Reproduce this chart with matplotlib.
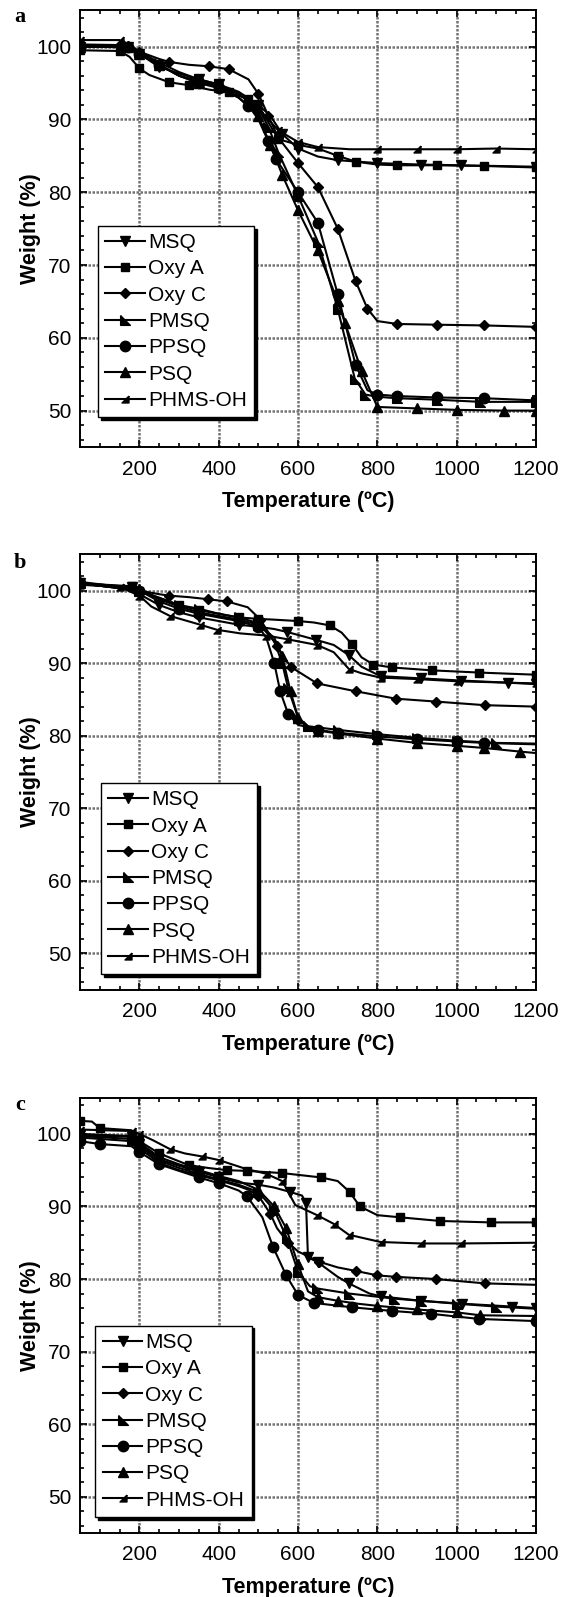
import matplotlib
matplotlib.use('Agg')
import matplotlib.pyplot as plt
from matplotlib.ticker import MultipleLocator

plt.rcParams['font.family'] = ['Liberation Sans', 'DejaVu Sans']

series_names = ['MSQ', 'Oxy A', 'Oxy C', 'PMSQ', 'PPSQ', 'PSQ', 'PHMS-OH']

# ---- panel a ----
a_msq_t = [50, 170, 200, 250, 300, 350, 400, 450, 500, 530, 560, 600, 650, 700, 800, 910, 1010, 1200]
a_msq_w = [100.0, 100.0, 99.0, 97.2, 96.3, 95.5, 94.8, 93.8, 92.0, 90.5, 88.0, 86.0, 84.9, 84.4, 84.0, 83.8, 83.7, 83.5]
a_oxya_t = [50, 150, 175, 200, 225, 275, 325, 375, 425, 475, 510, 550, 600, 650, 700, 745, 800, 850, 950, 1070, 1200]
a_oxya_w = [99.5, 99.4, 98.6, 97.0, 96.1, 95.1, 94.7, 94.1, 93.7, 92.8, 91.0, 87.3, 86.5, 86.0, 85.0, 84.2, 83.8, 83.7, 83.7, 83.6, 83.4]
a_oxyc_t = [50, 170, 200, 250, 275, 325, 375, 425, 475, 500, 525, 550, 600, 650, 700, 745, 775, 800, 850, 950, 1070, 1200]
a_oxyc_w = [100.2, 100.1, 99.3, 98.3, 97.9, 97.5, 97.3, 96.9, 95.5, 93.5, 90.5, 87.5, 84.0, 80.7, 75.0, 67.8, 64.0, 62.3, 61.9, 61.8, 61.7, 61.5]
a_pmsq_t = [50, 170, 200, 250, 300, 350, 400, 450, 500, 525, 550, 600, 650, 700, 743, 770, 800, 850, 950, 1060, 1200]
a_pmsq_w = [100.3, 100.2, 99.3, 97.8, 96.5, 95.5, 94.8, 93.5, 91.5, 89.0, 85.5, 79.5, 73.2, 64.0, 54.4, 52.2, 51.9, 51.7, 51.5, 51.2, 51.2]
a_ppsq_t = [50, 170, 200, 250, 300, 350, 400, 450, 475, 500, 525, 545, 600, 650, 700, 745, 775, 800, 850, 950, 1070, 1200]
a_ppsq_w = [100.0, 99.9, 99.0, 97.5, 96.0, 95.0, 94.3, 93.0, 91.9, 90.0, 87.0, 84.5, 80.0, 75.8, 66.0, 56.3, 52.8, 52.2, 52.0, 51.8, 51.7, 51.4]
a_psq_t = [50, 170, 200, 250, 300, 350, 400, 450, 500, 530, 560, 600, 650, 700, 718, 760, 800, 900, 1000, 1120, 1200]
a_psq_w = [100.0, 100.0, 99.0, 97.5, 96.0, 95.0, 94.5, 93.0, 90.5, 86.5, 82.4, 77.5, 72.0, 65.0, 62.1, 55.5, 50.5, 50.3, 50.1, 50.0, 50.0]
a_phms_t = [50, 150, 200, 250, 300, 350, 400, 450, 500, 550, 600, 650, 730, 800, 900, 1000, 1100, 1200]
a_phms_w = [100.9, 100.9, 99.3, 97.5, 96.0, 95.3, 94.6, 93.5, 91.5, 88.5, 86.9, 86.2, 85.9, 85.9, 85.9, 85.9, 86.0, 85.9]

# ---- panel b ----
b_msq_t = [50, 180, 200, 250, 300, 350, 400, 450, 500, 540, 572, 646, 690, 728, 760, 808, 909, 1010, 1130, 1200]
b_msq_w = [101.0, 100.5, 99.5, 98.0, 97.0, 96.3, 95.8, 95.3, 95.0, 94.7, 94.3, 93.2, 92.5, 91.1, 89.5, 88.2, 87.9, 87.6, 87.3, 87.1]
b_oxya_t = [50, 180, 200, 250, 300, 350, 400, 450, 500, 537, 600, 640, 680, 710, 736, 760, 790, 837, 938, 1056, 1200]
b_oxya_w = [101.0, 100.6, 100.0, 99.0, 98.0, 97.3, 96.8, 96.3, 96.1, 96.0, 95.8, 95.6, 95.2, 94.2, 92.6, 90.8, 89.8, 89.4, 89.0, 88.7, 88.4]
b_oxyc_t = [50, 200, 250, 275, 324, 374, 421, 473, 505, 547, 581, 648, 747, 846, 947, 1071, 1200]
b_oxyc_w = [101.0, 100.0, 99.5, 99.3, 99.1, 98.8, 98.5, 97.7, 96.0, 92.3, 89.5, 87.2, 86.1, 85.1, 84.7, 84.2, 84.0]
b_pmsq_t = [50, 200, 250, 300, 350, 400, 450, 500, 540, 560, 575, 600, 625, 700, 800, 900, 1000, 1100, 1200]
b_pmsq_w = [101.0, 100.0, 99.0, 98.0, 97.5, 96.8, 96.3, 95.5, 93.0, 90.0, 86.5, 82.5, 81.3, 80.8, 80.2, 79.7, 79.3, 79.0, 78.9]
b_ppsq_t = [50, 200, 250, 300, 350, 400, 450, 500, 520, 540, 555, 575, 600, 650, 700, 800, 900, 1000, 1070, 1200]
b_ppsq_w = [101.0, 100.0, 98.5, 97.5, 96.8, 96.3, 95.8, 95.0, 93.5, 90.0, 86.1, 83.0, 81.5, 80.8, 80.4, 79.9, 79.5, 79.2, 79.0, 78.8]
b_psq_t = [50, 200, 250, 300, 350, 400, 450, 500, 540, 560, 581, 600, 620, 650, 700, 800, 900, 1000, 1070, 1160, 1200]
b_psq_w = [101.2, 100.2, 98.8, 97.8, 97.0, 96.5, 96.0, 95.3, 93.5, 91.0, 86.1, 82.5, 81.3, 80.7, 80.3, 79.6, 79.0, 78.6, 78.3, 77.8, 77.6]
b_phms_t = [50, 150, 200, 230, 277, 353, 395, 454, 520, 572, 648, 690, 728, 760, 808, 900, 1000, 1200]
b_phms_w = [100.8, 100.5, 99.3, 97.8, 96.5, 95.3, 94.6, 94.1, 93.8, 93.3, 92.5, 91.5, 89.2, 88.6, 88.0, 87.8, 87.5, 87.2]

# ---- panel c ----
c_msq_t = [50, 180, 200, 250, 300, 350, 400, 450, 500, 540, 580, 610, 620, 625, 650, 700, 728, 780, 810, 909, 1014, 1140, 1200]
c_msq_w = [99.8, 99.6, 98.6, 96.5, 95.6, 94.8, 94.0, 93.3, 93.0, 92.6, 92.0, 91.5, 90.5, 83.0, 82.3, 80.3, 79.4, 78.0, 77.6, 77.0, 76.6, 76.2, 76.0]
c_oxya_t = [50, 80, 100, 180, 200, 250, 324, 374, 421, 471, 560, 658, 700, 730, 756, 800, 858, 958, 1086, 1200]
c_oxya_w = [101.8, 101.7, 100.8, 100.5, 99.0, 97.3, 95.7, 95.3, 95.0, 94.9, 94.6, 94.0, 93.5, 92.0, 90.0, 88.8, 88.5, 88.0, 87.8, 87.8]
c_oxyc_t = [50, 180, 200, 250, 300, 350, 400, 450, 475, 500, 530, 547, 575, 600, 652, 700, 747, 800, 846, 947, 1071, 1200]
c_oxyc_w = [99.5, 99.0, 98.0, 96.0, 95.0, 94.3, 93.6, 92.8, 92.3, 91.5, 89.0, 87.0, 85.0, 83.8, 82.4, 81.6, 81.1, 80.5, 80.3, 80.0, 79.4, 79.2]
c_pmsq_t = [50, 180, 200, 250, 300, 350, 400, 450, 500, 540, 572, 600, 630, 648, 728, 842, 909, 1000, 1100, 1200]
c_pmsq_w = [99.7, 99.3, 98.3, 96.3, 95.3, 94.5, 93.7, 93.0, 92.0, 89.5, 85.6, 81.0, 79.0, 78.7, 78.0, 77.3, 77.0, 76.6, 76.2, 75.9]
c_ppsq_t = [50, 100, 180, 200, 250, 300, 350, 400, 450, 471, 510, 537, 570, 600, 640, 736, 837, 936, 1056, 1200]
c_ppsq_w = [99.0, 98.6, 98.3, 97.5, 95.8, 94.9, 94.0, 93.2, 92.2, 91.4, 88.5, 84.4, 80.5, 77.8, 76.7, 76.1, 75.6, 75.2, 74.5, 74.2]
c_psq_t = [50, 180, 200, 250, 300, 350, 400, 450, 500, 540, 570, 600, 625, 650, 700, 750, 800, 900, 1000, 1060, 1200]
c_psq_w = [100.0, 99.7, 98.8, 96.8, 95.8, 95.0, 94.2, 93.5, 92.3, 90.0, 87.0, 82.0, 78.3, 77.5, 77.0, 76.6, 76.3, 75.8, 75.4, 75.0, 74.9]
c_phms_t = [50, 180, 200, 235, 277, 315, 357, 400, 467, 520, 560, 593, 648, 690, 728, 808, 909, 1010, 1200]
c_phms_w = [100.6, 100.4, 100.0, 99.1, 97.9, 97.3, 96.9, 96.4, 95.2, 94.5, 93.5, 90.2, 88.8, 87.6, 86.1, 85.1, 84.9, 84.9, 85.0]

panels = [
    ('a', [(a_msq_t, a_msq_w), (a_oxya_t, a_oxya_w), (a_oxyc_t, a_oxyc_w), (a_pmsq_t, a_pmsq_w),
           (a_ppsq_t, a_ppsq_w), (a_psq_t, a_psq_w), (a_phms_t, a_phms_w)]),
    ('b', [(b_msq_t, b_msq_w), (b_oxya_t, b_oxya_w), (b_oxyc_t, b_oxyc_w), (b_pmsq_t, b_pmsq_w),
           (b_ppsq_t, b_ppsq_w), (b_psq_t, b_psq_w), (b_phms_t, b_phms_w)]),
    ('c', [(c_msq_t, c_msq_w), (c_oxya_t, c_oxya_w), (c_oxyc_t, c_oxyc_w), (c_pmsq_t, c_pmsq_w),
           (c_ppsq_t, c_ppsq_w), (c_psq_t, c_psq_w), (c_phms_t, c_phms_w)]),
]

# custom right-angle triangles for PMSQ and PHMS-OH
tri_ll = [(-1, 1), (-1, -1), (1, -1), (-1, 1)]
tri_lr = [(1, 1), (1, -1), (-1, -1), (1, 1)]
markers = ['v', 's', 'D', tri_ll, 'o', '^', tri_lr]
msizes = [7, 6, 5.5, 7, 7.5, 7, 5]

axes_pos = [[0.1418, 0.7201, 0.8085, 0.2735],
            [0.1418, 0.3804, 0.8085, 0.2725],
            [0.1418, 0.0401, 0.8085, 0.2726]]
legend_anchor = [(95, 49.1), (103, 47.1), (89, 47.2)]
letter_y = [17, 563, 1105]

fig = plt.figure(figsize=(5.64, 15.97), dpi=100)

for i, (letter, curves) in enumerate(panels):
    ax = fig.add_axes(axes_pos[i])
    for (t, w), name, m, ms in zip(curves, series_names, markers, msizes):
        ax.plot(t, w, color='black', lw=1.5, marker=m, ms=ms, markevery=0.05,
                markerfacecolor='black', markeredgecolor='black', label=name)
    ax.set_xlim(50, 1200)
    ax.set_ylim(45, 105)
    ax.xaxis.set_major_locator(MultipleLocator(200))
    ax.xaxis.set_minor_locator(MultipleLocator(50))
    ax.yaxis.set_major_locator(MultipleLocator(10))
    ax.yaxis.set_minor_locator(MultipleLocator(2))
    ax.tick_params(which='both', direction='in', top=True, right=True, width=1.2)
    ax.tick_params(which='major', length=5, labelsize=15)
    ax.tick_params(axis='y', which='major', pad=6)
    ax.tick_params(axis='x', which='major', pad=9)
    ax.tick_params(which='minor', length=3)
    ax.set_axisbelow(True)
    ax.grid(True, which='major', color='0.45', linestyle=(0, (1, 0.6)), linewidth=1.8)
    for sp in ax.spines.values():
        sp.set_linewidth(1.4)
    ax.set_xlabel('Temperature (ºC)', fontsize=15.5, fontweight='bold', labelpad=9)
    ax.set_ylabel('Weight (%)', fontsize=15.5, fontweight='bold', labelpad=-3)
    leg = ax.legend(loc='lower left', bbox_to_anchor=legend_anchor[i], bbox_transform=ax.transData,
                    fontsize=15, frameon=True, fancybox=False, framealpha=1,
                    edgecolor='black', shadow={'color': 'black', 'alpha': 1},
                    handlelength=1.9, handletextpad=0.15, labelspacing=0.35,
                    borderpad=0.35, borderaxespad=0)
    leg.get_frame().set_linewidth(1.0)
    fig.text(20 / 564, 1 - letter_y[i] / 1597, letter, ha='center', va='center',
             family=['Liberation Serif', 'DejaVu Serif'], fontweight='bold', fontsize=16)

fig.savefig('out.png', dpi=100)
